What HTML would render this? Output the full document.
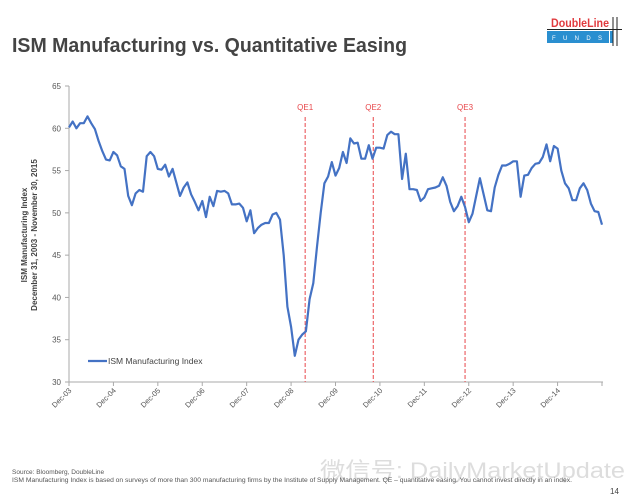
<!DOCTYPE html>
<html><head><meta charset="utf-8"><style>
body{margin:0;background:#fff;width:640px;height:503px;overflow:hidden;font-family:"Liberation Sans",sans-serif}
svg{display:block}
</style></head><body>
<svg width="640" height="503" xmlns="http://www.w3.org/2000/svg">
<text x="12" y="52" font-size="20" font-weight="bold" fill="#444" font-family="Liberation Sans, sans-serif" textLength="395" lengthAdjust="spacingAndGlyphs">ISM Manufacturing vs. Quantitative Easing</text>
<g>
<text x="551" y="27" font-size="12" font-weight="bold" fill="#e03a3e" textLength="58" lengthAdjust="spacingAndGlyphs">DoubleLine</text>
<rect x="547" y="31" width="62" height="12" fill="#2a8fd0"/>
<text x="552" y="40" font-size="6" fill="#fff" textLength="50" lengthAdjust="spacing">F U N D S</text>
<line x1="547" y1="29.5" x2="622" y2="29.5" stroke="#222" stroke-width="1"/>
<line x1="613" y1="17" x2="613" y2="46" stroke="#222" stroke-width="1"/>
<line x1="617" y1="17" x2="617" y2="46" stroke="#222" stroke-width="1"/>
<rect x="610" y="31" width="2.5" height="12" fill="#2a8fd0"/>
</g>
<g id="chart"></g>
<text transform="translate(27,235) rotate(-90)" text-anchor="middle" font-size="8" font-weight="bold" fill="#444"><tspan x="0" dy="0">ISM Manufacturing Index</tspan><tspan x="0" dy="10">December 31, 2003 - November 30, 2015</tspan></text>
<g>
<line x1="88" y1="361" x2="107" y2="361" stroke="#4472c4" stroke-width="2.2"/>
<text x="108" y="364" font-size="8.5" fill="#444">ISM Manufacturing Index</text>
</g>
<text x="320" y="478" font-size="22" fill="#ddd" font-family="Liberation Sans, Noto Sans CJK SC, sans-serif" textLength="305" lengthAdjust="spacingAndGlyphs">微信号: DailyMarketUpdate</text>
<text x="12" y="474" font-size="6.5" fill="#555">Source: Bloomberg, DoubleLine</text>
<text x="12" y="482" font-size="6.5" fill="#555" textLength="560" lengthAdjust="spacingAndGlyphs">ISM Manufacturing Index is based on surveys of more than 300 manufacturing firms by the Institute of Supply Management. QE – quantitative easing. You cannot invest directly in an index.</text>
<text x="610" y="494" font-size="8" fill="#444">14</text>
</svg>
<script>
const values=[60.1,60.8,60.0,60.6,60.6,61.4,60.6,59.9,58.5,57.3,56.3,56.2,57.2,56.8,55.5,55.2,52.0,50.9,52.3,52.7,52.5,56.7,57.2,56.7,55.2,55.1,55.7,54.3,55.2,53.6,52.0,53.0,53.6,52.2,51.3,50.3,51.4,49.5,51.9,50.8,52.6,52.5,52.6,52.3,51.0,51.0,51.1,50.6,49.0,50.3,47.6,48.2,48.6,48.8,48.8,49.8,50.0,49.2,45.0,38.9,36.5,33.1,35.0,35.6,36.0,39.8,41.7,46.0,50.0,53.5,54.3,56.0,54.4,55.3,57.2,55.9,58.8,58.2,58.3,56.4,56.4,58.0,56.4,57.7,57.7,57.6,59.2,59.6,59.3,59.3,54.0,57.0,52.8,52.8,52.7,51.4,51.8,52.8,52.9,53.0,53.2,54.2,53.2,51.3,50.2,50.8,51.9,50.7,48.9,49.9,52.0,54.1,52.2,50.3,50.2,53.0,54.5,55.6,55.6,55.8,56.1,56.1,51.9,54.4,54.5,55.3,55.8,55.9,56.6,58.1,56.1,57.9,57.6,55.0,53.5,52.9,51.5,51.5,52.9,53.5,52.7,51.1,50.2,50.1,48.6];
const xLabels=["Dec-03","Dec-04","Dec-05","Dec-06","Dec-07","Dec-08","Dec-09","Dec-10","Dec-11","Dec-12","Dec-13","Dec-14"];
const yTicks=[30,35,40,45,50,55,60,65];
const qeNames=["QE1","QE2","QE3"];
const qeMonths=[63.8,82.2,107];
const NS="http://www.w3.org/2000/svg";
const g=document.getElementById('chart');
const x0=69,x1=602,y0=382,y1=86,N=144;
const xs=i=>x0+(x1-x0)*i/N;
const ys=v=>y0-(v-30)/(65-30)*(y0-y1);
function mk(t,a){const e=document.createElementNS(NS,t);for(const k in a)e.setAttribute(k,a[k]);g.appendChild(e);return e;}
let ax=mk('line',{x1:x0,y1:y1,x2:x0,y2:y0,stroke:'#aaa','stroke-width':1});


let bx=mk('line',{x1:x0,y1:y0,x2:x1+1,y2:y0,stroke:'#aaa','stroke-width':1});


yTicks.forEach(v=>{
 mk('line',{x1:x0-4,y1:ys(v),x2:x0,y2:ys(v),stroke:'#aaa'});
 const t=mk('text',{x:x0-8,y:ys(v)+3,'font-size':8,fill:'#555','text-anchor':'end'});
 t.textContent=v;
 
 
});
for(let k=0;k<=12;k++){
 const x=xs(k*12);
 mk('line',{x1:x,y1:y0,x2:x,y2:y0+4,stroke:'#aaa'});
 if(k<xLabels.length){
  const t=mk('text',{transform:`translate(${x+3},${y0+9}) rotate(-45)`,'font-size':7.5,fill:'#555','text-anchor':'end'});
  t.textContent=xLabels[k];
  
  
 }
}
qeMonths.forEach((m,i)=>{
 const x=xs(m);
 const l=mk('line',{x1:x,y1:117,x2:x,y2:y0,stroke:'#e8474b','stroke-width':1,'stroke-dasharray':'4,2'});
 
 
 const t=mk('text',{x:x,y:110,'font-size':8,fill:'#e8474b','text-anchor':'middle'});
 t.textContent=qeNames[i];
 
 
});
const p=mk('polyline',{points:values.map((v,i)=>xs(i).toFixed(1)+','+ys(v).toFixed(1)).join(' '),fill:'none',stroke:'#4472c4','stroke-width':2.2,'stroke-linejoin':'round'});


</script>
</body></html>
